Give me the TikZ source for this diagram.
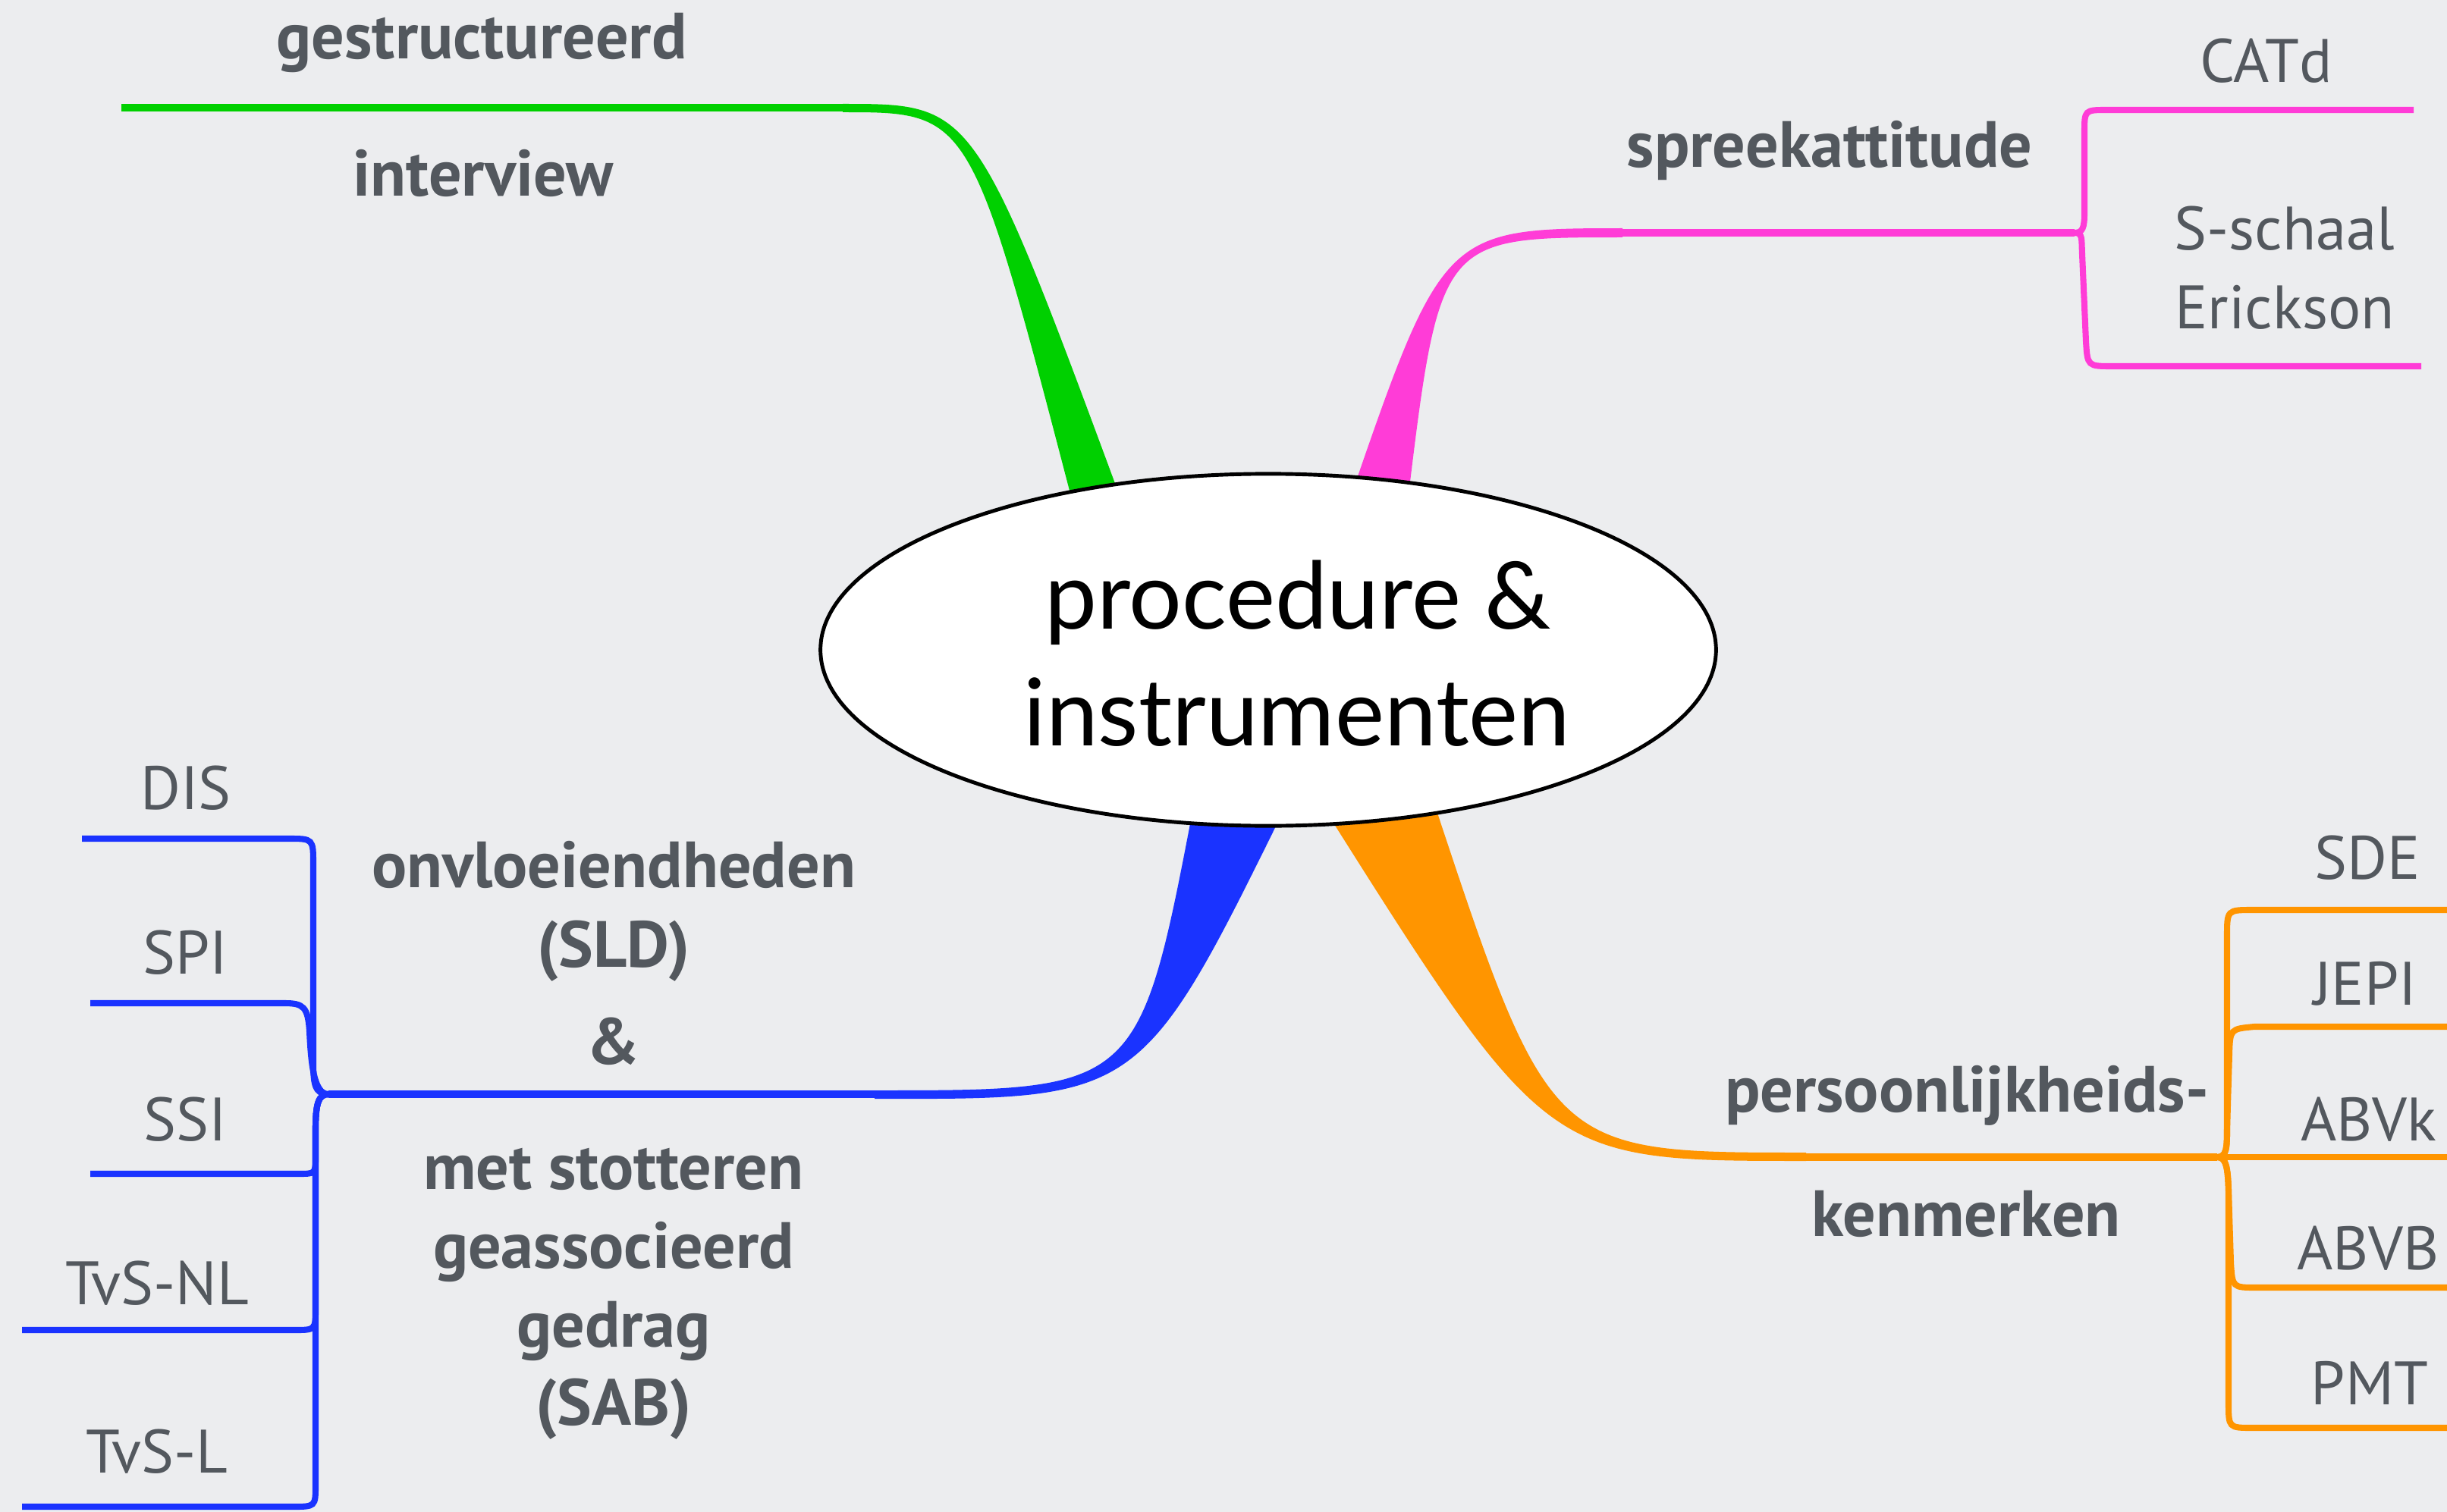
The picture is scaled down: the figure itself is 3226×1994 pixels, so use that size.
\documentclass[tikz,border=0pt]{standalone}
\usepackage{fontspec}
\setmainfont{PT Sans}
\newfontfamily\rootfont{Lato}
\usetikzlibrary{shapes.geometric}
\definecolor{bg}{HTML}{ECEDEF}
\definecolor{txt}{HTML}{53585E}
\definecolor{cgreen}{HTML}{00D000}
\definecolor{cpink}{HTML}{FF3CD7}
\definecolor{cblue}{HTML}{1A33FF}
\definecolor{corange}{HTML}{FF9500}
\begin{document}
\begin{tikzpicture}[x=0.01cm,y=-0.01cm,
  lab/.style={anchor=base, text=txt, inner sep=0pt, font=\fontsize{23}{28}\selectfont},
  blab/.style={anchor=base, text=txt, inner sep=0pt, font=\fontsize{24.5}{29}\selectfont\bfseries},
  rlab/.style={anchor=base, text=black, inner sep=0pt, font=\rootfont\fontsize{35}{42}\selectfont},
  mainline/.style={line width=3.1pt},
  subline/.style={line width=2.3pt},
  rootnode/.style={ellipse, draw=black, line width=1.4pt, fill=white,
    minimum width=11.8cm, minimum height=4.64cm, inner sep=0pt}]
\useasboundingbox (0,0) rectangle (3226,1994);
\fill[bg] (0,0) rectangle (3226,1994);

% ---------- coordinates ----------
\coordinate (gEnd) at (160,142);   \coordinate (gJ) at (1111,142);
\coordinate (pS) at (2139,307);    \coordinate (pJ) at (2735,307);
\coordinate (bS) at (1153,1443);   \coordinate (bJ) at (433,1443);
\coordinate (oS) at (2381,1526);   \coordinate (oJ) at (2923,1526);
\coordinate (eCAT) at (3182,145);  \coordinate (eSSE) at (3192,483);
\coordinate (eDIS) at (108,1106);  \coordinate (eSPI) at (119,1323);
\coordinate (eSSI) at (119,1548);  \coordinate (eNL) at (29,1754);
\coordinate (eL) at (29,1987);
\coordinate (eSDE) at (3226,1200); \coordinate (eJEPI) at (3226,1354);
\coordinate (eABVk) at (3226,1526); \coordinate (eABVB) at (3226,1698);
\coordinate (ePMT) at (3226,1883);

% ---------- tapered trunks ----------
\fill[cgreen] (1111,137) .. controls (1285,137) and (1285,137) .. (1482,670)
  -- (1416,670) .. controls (1280,148) and (1280,148) .. (1111,148) -- cycle;
\fill[cpink] (2139,301) .. controls (1905,301) and (1901,305) .. (1779,660)
  -- (1856,660) .. controls (1898,313) and (1900,313) .. (2139,313) -- cycle;
\fill[cblue] (1153,1438) .. controls (1502,1438) and (1502,1438) .. (1575,1055)
  -- (1699,1055) .. controls (1505,1450) and (1505,1450) .. (1153,1449) -- cycle;
\fill[corange] (1742,1060) .. controls (2039,1531) and (2039,1531) .. (2381,1531)
  -- (2381,1520) .. controls (2043,1520) and (2043,1520) .. (1886,1045) -- cycle;

% ---------- main lines ----------
\draw[cgreen, mainline] (gEnd) -- (gJ);
\draw[cpink, mainline] (pS) -- (pJ);
\draw[cblue, mainline] (bJ) -- (bS);
\draw[corange, mainline] (oS) -- (oJ);

% ---------- pink children ----------
\draw[cpink, subline] (pJ) .. controls (2746,307) and (2748,300) .. (2748,280)
  -- (2748,175) .. controls (2748,145) .. (2778,145) -- (eCAT);
\draw[cpink, subline] (pJ) .. controls (2746,307) and (2744,315) .. (2745,335)
  -- (2750,450) .. controls (2752,483) .. (2785,483) -- (eSSE);

% ---------- blue children ----------
\draw[cblue, subline] (bJ) .. controls (415,1443) and (413,1430) .. (413,1400)
  -- (413,1140) .. controls (413,1106) .. (380,1106) -- (eDIS);
\draw[cblue, subline] (bJ) .. controls (413,1443) and (410,1400) .. (408,1360)
  .. controls (406,1328) and (400,1323) .. (375,1323) -- (eSPI);
\draw[cblue, subline] (bJ) .. controls (420,1443) and (416,1455) .. (416,1490)
  -- (416,1525) .. controls (416,1548) .. (393,1548) -- (eSSI);
\draw[cblue, subline] (bJ) .. controls (420,1443) and (416,1455) .. (416,1490)
  -- (416,1725) .. controls (416,1754) .. (388,1754) -- (eNL);
\draw[cblue, subline] (bJ) .. controls (420,1443) and (416,1455) .. (416,1490)
  -- (416,1958) .. controls (416,1987) .. (385,1987) -- (eL);

% ---------- orange children ----------
\draw[corange, subline] (oJ) .. controls (2935,1526) and (2936,1515) .. (2936,1490)
  -- (2936,1235) .. controls (2936,1200) .. (2970,1200) -- (eSDE);
\draw[corange, subline] (oJ) .. controls (2935,1526) and (2936,1515) .. (2936,1490)
  -- (2939,1390) .. controls (2940,1357) .. (2972,1354) -- (eJEPI);
\draw[corange, subline] (oJ) -- (eABVk);
\draw[corange, subline] (oJ) .. controls (2935,1526) and (2937,1540) .. (2938,1570)
  -- (2941,1665) .. controls (2943,1698) .. (2975,1698) -- (eABVB);
\draw[corange, subline] (oJ) .. controls (2935,1526) and (2937,1540) .. (2938,1570)
  -- (2938,1850) .. controls (2938,1883) .. (2970,1883) -- (ePMT);

% ---------- root ----------
\node[rootnode] (root) at (1672,857) {};
\node[rlab] (rootA) at (1711,829) {procedure \&};
\node[rlab] (rootB) at (1710,983) {instrumenten};

% ---------- labels ----------
\node[blab] (tG1) at (635,78) {gestructureerd};
\node[blab] (tG2) at (637,259) {interview};
\node[blab] (tP) at (2412,221) {spreekattitude};
\node[lab] (tCAT) at (2988,109) {CATd};
\node[lab] (tSS1) at (3012,330) {S-schaal};
\node[lab] (tSS2) at (3012,433) {Erickson};

\node[blab] (tB1) at (809,1170) {onvloeiendheden};
\node[blab] (tB2) at (809,1275) {(SLD)};
\node[blab] (tB3) at (809,1403) {\&};
\node[blab] (tB4) at (809,1568) {met stotteren};
\node[blab] (tB5) at (809,1672) {geassocieerd};
\node[blab] (tB6) at (809,1776) {gedrag};
\node[blab] (tB7) at (809,1879) {(SAB)};
\node[lab] (tDIS) at (245,1067) {DIS};
\node[lab] (tSPI) at (244,1284) {SPI};
\node[lab] (tSSI) at (244,1504) {SSI};
\node[lab] (tNL) at (207,1720) {TvS-NL};
\node[lab] (tL) at (207,1942) {TvS-L};

\node[blab] (tO1) at (2593,1466) {persoonlijkheids-};
\node[blab] (tO2) at (2592,1630) {kenmerken};
\node[lab] (tSDE) at (3121,1159) {SDE};
\node[lab] (tJEPI) at (3118,1325) {JEPI};
\node[lab] (tABVk) at (3123,1504) {ABVk};
\node[lab] (tABVB) at (3122,1674) {ABVB};
\node[lab] (tPMT) at (3124,1852) {PMT};
\end{tikzpicture}
\end{document}
